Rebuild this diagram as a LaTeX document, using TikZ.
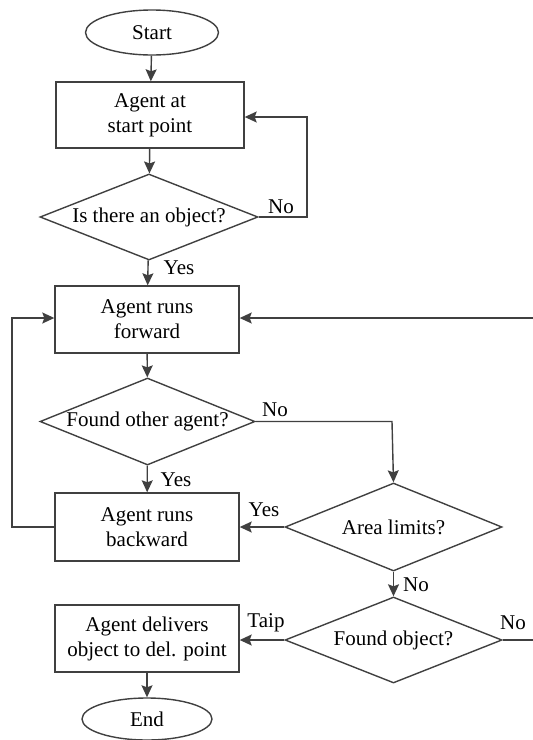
\documentclass[tikz,border=0pt]{standalone}
\usepackage{fontspec}
\setmainfont{Liberation Serif}
\newfontfamily\diagfont{Liberation Serif}
\usetikzlibrary{shapes.geometric,arrows.meta}
\begin{document}
\begin{tikzpicture}[x=1pt,y=-1pt,
  every node/.style={font=\diagfont\fontsize{21}{25}\selectfont, text=black},
  ln/.style={draw=black!75, line width=1.4pt},
  arr/.style={ln, -{Stealth[length=12pt,width=11pt,inset=2pt]}},
  termbox/.style={ln, ellipse, minimum width=133pt, minimum height=45pt, inner sep=0pt},
  procbox/.style={ln, rectangle, align=center, inner sep=0pt},
  decbox/.style={ln, diamond, aspect=2.5, inner sep=0pt},
  lbl/.style={inner sep=0pt}]
\useasboundingbox (0,0) rectangle (533,740);
\clip (0,0) rectangle (533,740);
% nodes
\node[termbox] (start) at (152,32.5) {Start};
\node[procbox, minimum width=188pt, minimum height=66pt] (b1) at (150,115) {Agent at\\start point};
\node[decbox, minimum width=218pt, minimum height=86pt] (d1) at (149,217) {};
\node at (d1) {Is there an object?};
\node[procbox, minimum width=184pt, minimum height=67pt] (b2) at (147,319.5) {Agent runs\\forward};
\node[decbox, minimum width=215pt, minimum height=87pt] (d2) at (147.5,421.5) {};
\node at (d2) {Found other agent?};
\node[procbox, minimum width=184pt, minimum height=68pt] (b3) at (147,527) {Agent runs\\backward};
\node[decbox, minimum width=217pt, minimum height=88pt] (d3) at (393.5,527) {};
\node at (d3) {Area limits?};
\node[decbox, minimum width=217pt, minimum height=86pt] (d4) at (393.5,640) {};
\node at (d4) {Found object?};
\node[procbox, minimum width=184pt, minimum height=67pt] (b4) at (147,638.5) {Agent delivers\\object to del. point};
\node[termbox, minimum width=130pt, minimum height=42pt] (end) at (147,719) {End};
% coordinates
\coordinate (c1) at (307,217);
\coordinate (c2) at (307,117);
\coordinate (c3) at (392,421.5);
\coordinate (c4) at (12,527);
\coordinate (c5) at (12,318);
\coordinate (c6) at (545,640);
\coordinate (c7) at (545,318);
% connectors
\draw[arr] (start) -- (b1);
\draw[arr] (b1) -- (d1);
\draw[arr] (d1.east) -- (c1) -- (c2) -- (c2 -| b1.east);
\draw[arr] (d1) -- (b2);
\draw[arr] (b2) -- (d2);
\draw[arr] (d2.east) -- (c3) -- (d3.north);
\draw[arr] (d2) -- (b3);
\draw[arr] (b3.west) -- (c4) -- (c5) -- (c5 -| b2.west);
\draw[arr] (d3.west) -- (b3.east);
\draw[arr] (d3) -- (d4);
\draw[arr] (d4.west) -- (d4.west -| b4.east);
\draw[arr] (d4.east) -- (c6) -- (c7) -- (c7 -| b2.east);
\draw[arr] (b4) -- (end);
% labels
\node[lbl] at (281,207) {No};
\node[lbl] at (179,268) {Yes};
\node[lbl] at (275,410) {No};
\node[lbl] at (176,480) {Yes};
\node[lbl] at (264,510) {Yes};
\node[lbl] at (416,585) {No};
\node[lbl] at (266,623) {Taip};
\node[lbl] at (513,623) {No};
\end{tikzpicture}
\end{document}
